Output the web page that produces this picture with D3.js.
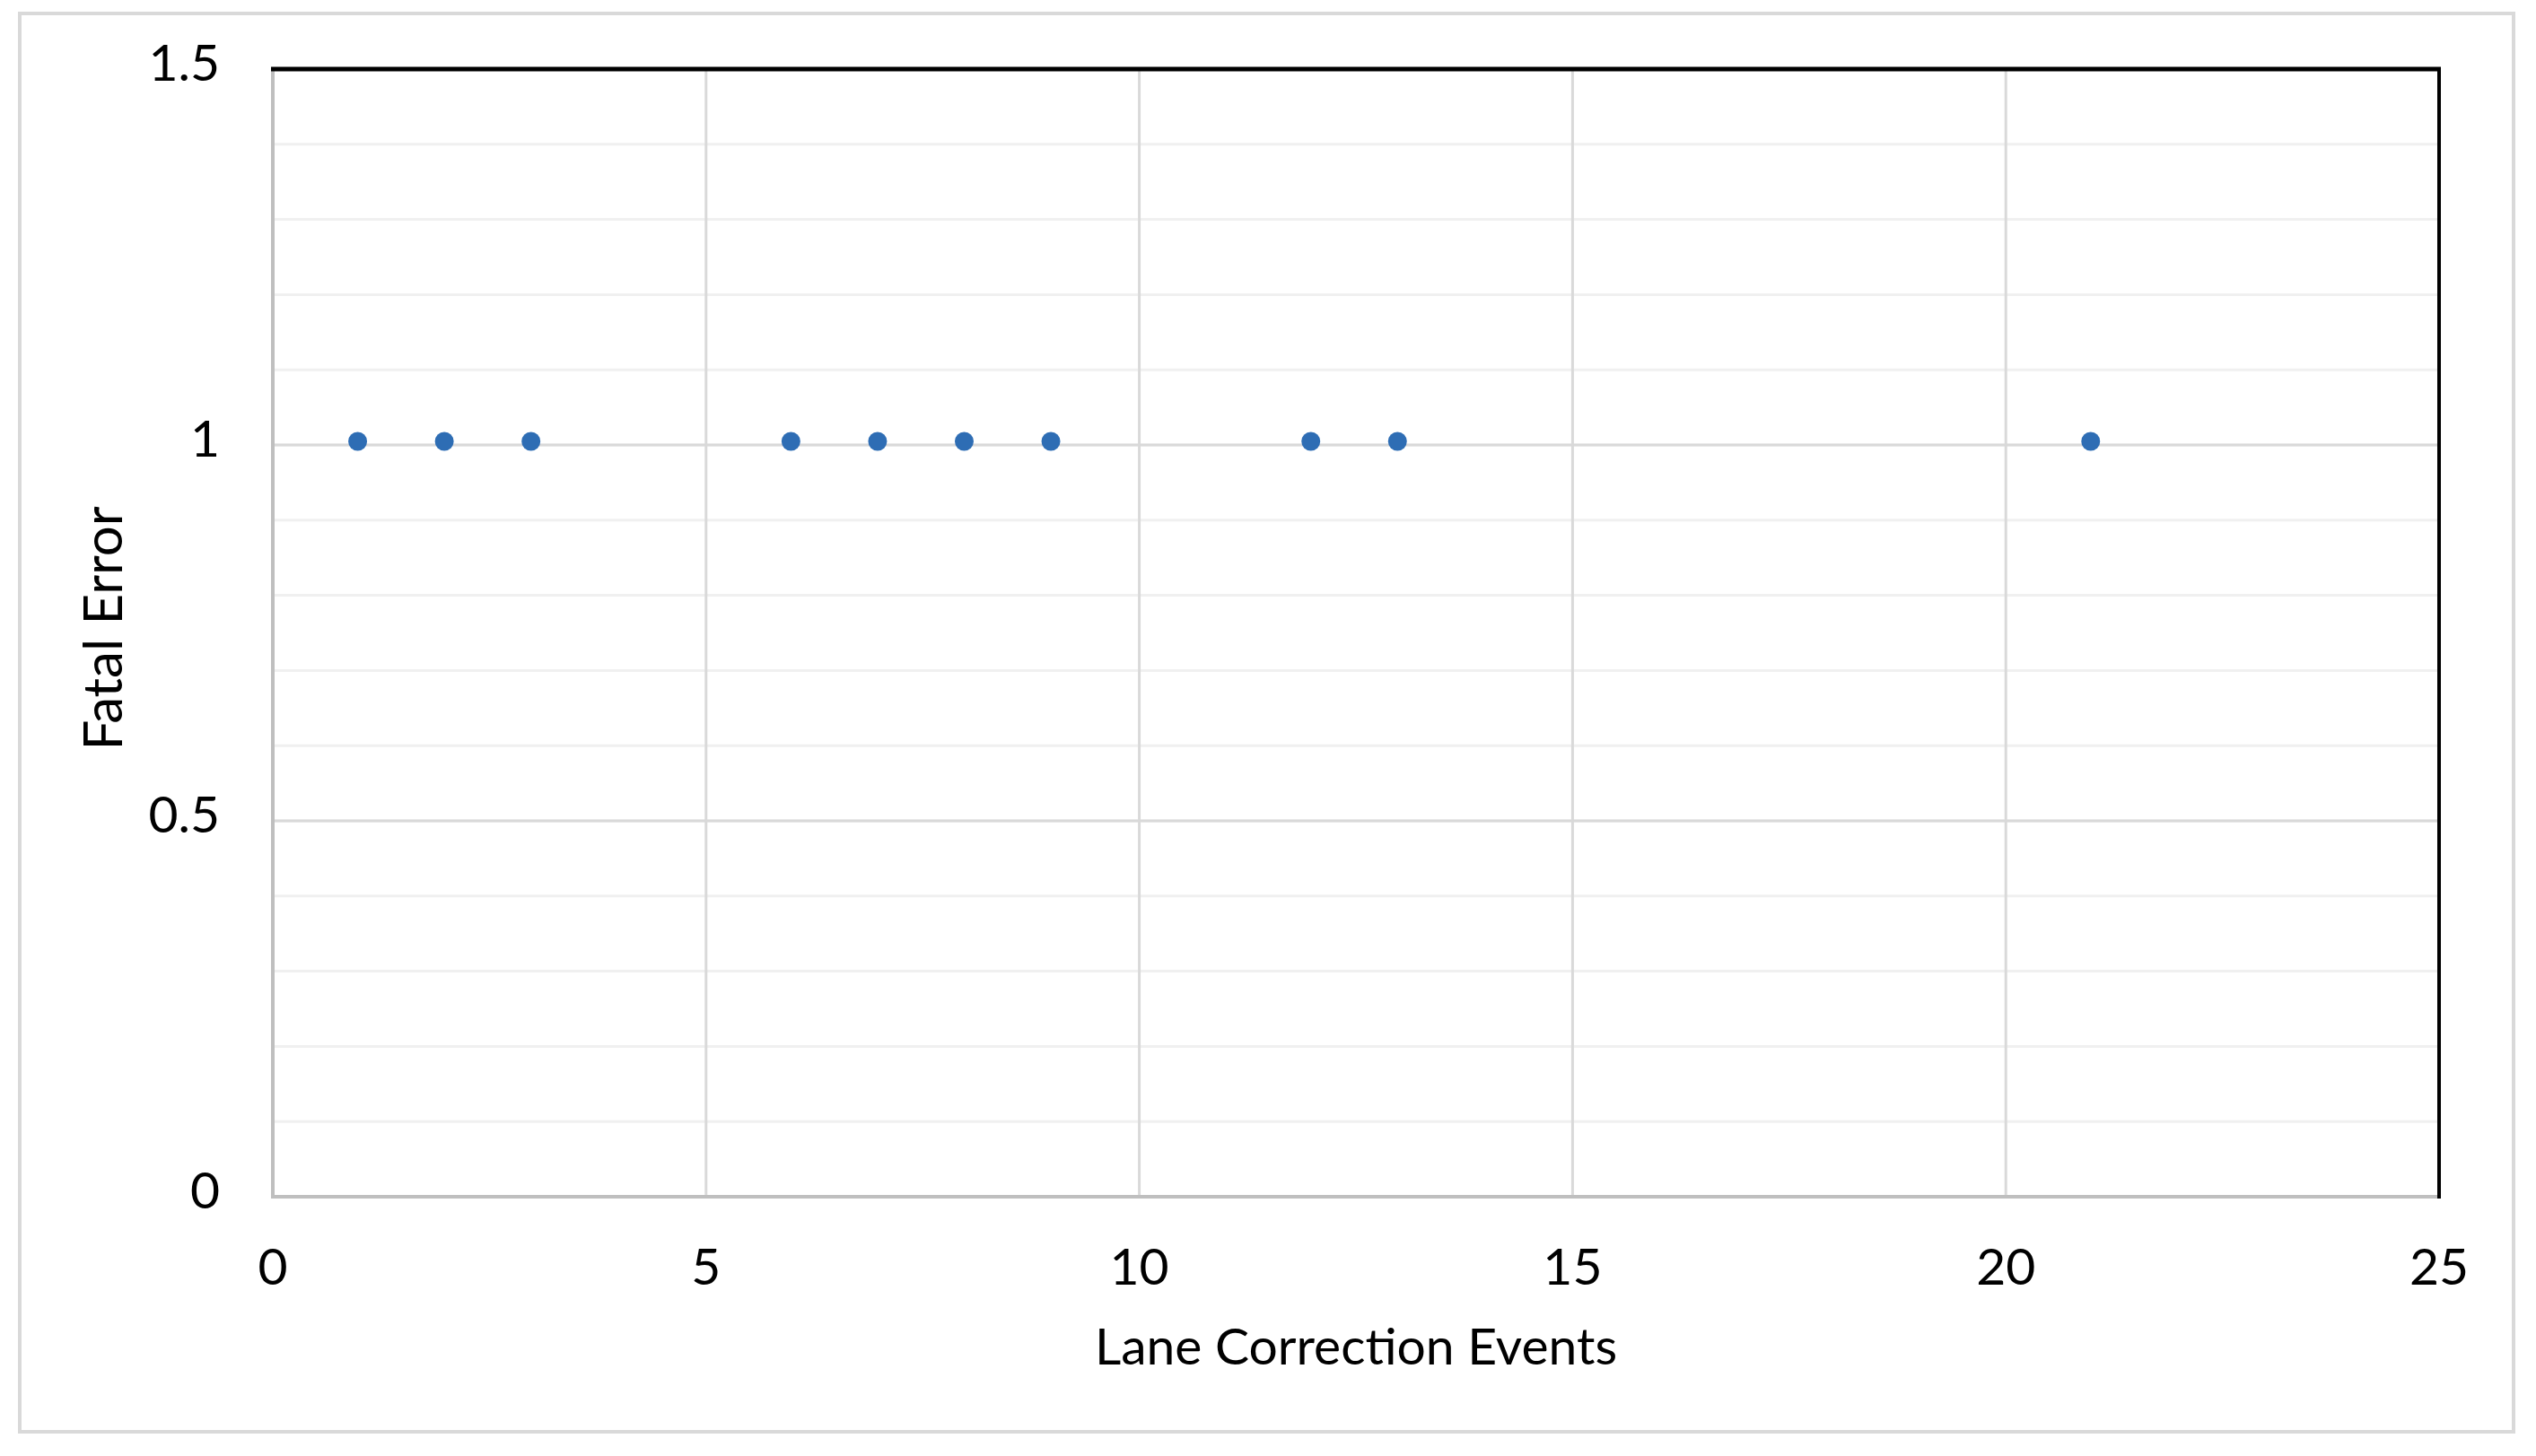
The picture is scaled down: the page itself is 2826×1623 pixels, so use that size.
<!DOCTYPE html>
<html lang="en">
<head>
    <meta charset="UTF-8">
    <title>Fatal Error vs Lane Correction Events</title>
    <script src="https://d3js.org/d3.v7.min.js"></script>
    <style>
        body { margin: 0; background-color: #ffffff; overflow: hidden; font-family: Lato, "Open Sans", Arial, sans-serif; }
        .tick-label { font-size: 57px; fill: #000000; }
        .axis-title { fill: #000000; }
        .x-title { font-size: 57px; }
        .y-title { font-size: 60px; }
    </style>
</head>
<body>
    <div id="chart"></div>
    <script>
        // Data
        const laneCorrectionEvents = [1, 2, 3, 6, 7, 8, 9, 12, 13, 21];
        const fatalError = [1, 1, 1, 1, 1, 1, 1, 1, 1, 1];

        // Axis ticks
        const xTicks = [0, 5, 10, 15, 20, 25];
        const yTicks = [0, 0.5, 1, 1.5];
        const yTickLabels = ["0", "0.5", "1", "1.5"];
        const yMinorTicks = d3.range(0, 1.5001, 0.1);

        const width = 2826, height = 1623;
        const margin = { top: 77, right: 108, bottom: 289, left: 304 };
        const plotW = width - margin.left - margin.right;
        const plotH = height - margin.top - margin.bottom;

        const svg = d3.select("#chart").append("svg")
            .attr("width", width)
            .attr("height", height);

        // Outer chart border
        svg.append("rect")
            .attr("x", 22).attr("y", 15)
            .attr("width", 2779).attr("height", 1581)
            .attr("fill", "#ffffff")
            .attr("stroke", "#d9d9d9")
            .attr("stroke-width", 4);

        const x = d3.scaleLinear().domain([0, 25]).range([margin.left, margin.left + plotW]);
        const y = d3.scaleLinear().domain([0, 1.5]).range([margin.top + plotH, margin.top]);

        const g = svg.append("g");

        // Minor horizontal gridlines
        g.selectAll(".minor")
            .data(yMinorTicks)
            .enter().append("line")
            .attr("x1", x(0)).attr("x2", x(25))
            .attr("y1", d => y(d)).attr("y2", d => y(d))
            .attr("stroke", "#f0f0f0")
            .attr("stroke-width", 3);

        // Major horizontal gridlines
        g.selectAll(".hmajor")
            .data(yTicks)
            .enter().append("line")
            .attr("x1", x(0)).attr("x2", x(25))
            .attr("y1", d => y(d)).attr("y2", d => y(d))
            .attr("stroke", "#d9d9d9")
            .attr("stroke-width", 3);

        // Vertical gridlines
        g.selectAll(".vmajor")
            .data(xTicks)
            .enter().append("line")
            .attr("x1", d => x(d)).attr("x2", d => x(d))
            .attr("y1", y(0)).attr("y2", y(1.5))
            .attr("stroke", "#d9d9d9")
            .attr("stroke-width", 3);

        // Axis lines: left and bottom grey, top and right black
        g.append("line")
            .attr("x1", x(0)).attr("x2", x(0))
            .attr("y1", y(0) + 2).attr("y2", y(1.5))
            .attr("stroke", "#bfbfbf").attr("stroke-width", 4);
        g.append("line")
            .attr("x1", x(0) - 2).attr("x2", x(25))
            .attr("y1", y(0)).attr("y2", y(0))
            .attr("stroke", "#bfbfbf").attr("stroke-width", 4);
        g.append("line")
            .attr("x1", x(0) - 2).attr("x2", x(25) + 2)
            .attr("y1", y(1.5)).attr("y2", y(1.5))
            .attr("stroke", "#000000").attr("stroke-width", 5);
        g.append("line")
            .attr("x1", x(25)).attr("x2", x(25))
            .attr("y1", y(1.5)).attr("y2", y(0) + 2)
            .attr("stroke", "#000000").attr("stroke-width", 4);

        // Tick labels
        svg.selectAll(".xlabel")
            .data(xTicks)
            .enter().append("text")
            .attr("class", "tick-label")
            .attr("x", d => x(d))
            .attr("y", 1432)
            .attr("text-anchor", "middle")
            .text(d => d);

        svg.selectAll(".ylabel")
            .data(yTicks)
            .enter().append("text")
            .attr("class", "tick-label")
            .attr("x", 245)
            .attr("y", d => y(d))
            .attr("dy", "0.22em")
            .attr("text-anchor", "end")
            .text((d, i) => yTickLabels[i]);

        // Axis titles
        svg.append("text")
            .attr("class", "axis-title x-title")
            .attr("x", (x(0) + x(25)) / 2)
            .attr("y", 1521)
            .attr("text-anchor", "middle")
            .text("Lane Correction Events");

        svg.append("text")
            .attr("class", "axis-title y-title")
            .attr("transform", `translate(136, ${(y(0) + y(1.5)) / 2 - 5}) rotate(-90)`)
            .attr("text-anchor", "middle")
            .text("Fatal Error");

        // Points
        const points = laneCorrectionEvents.map((v, i) => ({ x: v, y: fatalError[i] }));
        svg.selectAll(".dot")
            .data(points)
            .enter().append("circle")
            .attr("class", "dot")
            .attr("cx", d => x(d.x) - 2)
            .attr("cy", d => y(d.y) - 4)
            .attr("r", 10.5)
            .attr("fill", "#2e6db4");
    </script>
</body>
</html>
